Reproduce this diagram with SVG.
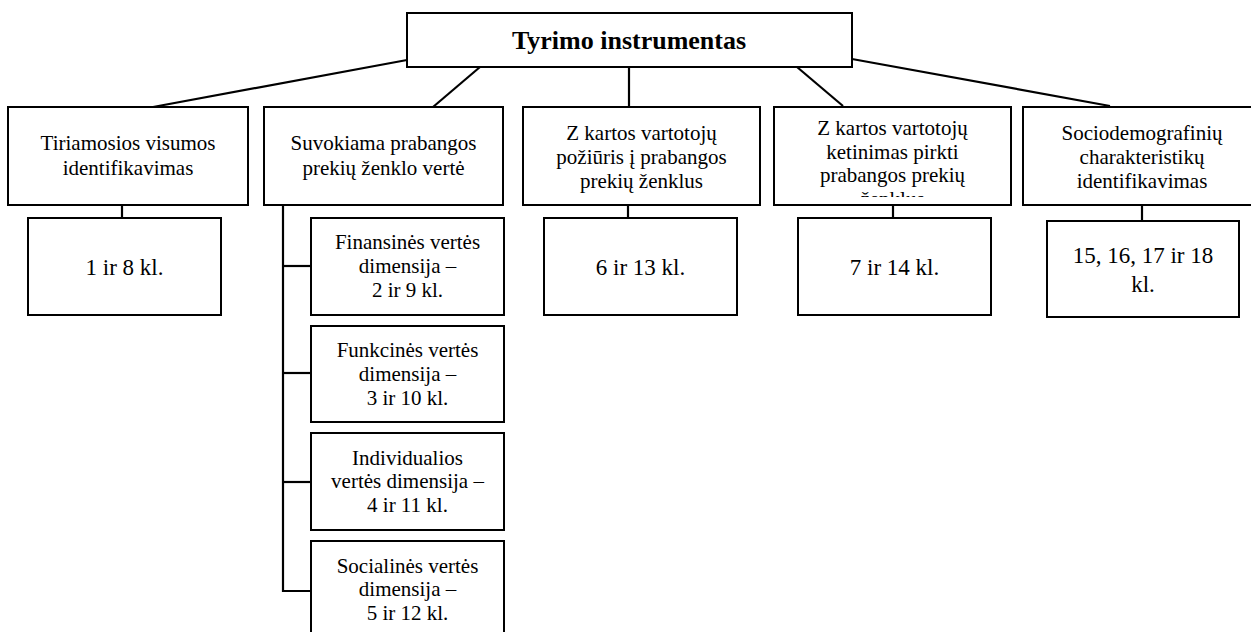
<svg xmlns="http://www.w3.org/2000/svg" width="1251" height="632" viewBox="0 0 1251 632">
  <style>
    .box { fill: #ffffff; stroke: #000000; stroke-width: 2; }
    .link { fill: none; stroke: #000000; stroke-width: 2.2; }
    .lbl text { fill: #000000; text-anchor: middle; }
    .t { font-size: 21px; }
    .n { font-size: 23px; }
    .title { font-size: 26px; font-weight: bold; }
  </style>
  <defs>
    <clipPath id="clip-ketinimas">
      <rect x="775" y="107" width="236" height="90"/>
    </clipPath>
  </defs>
  <rect width="1251" height="632" fill="#ffffff"/>

  <!-- connectors -->
  <g id="connectors">
    <line class="link" x1="407" y1="60" x2="153" y2="107"/>
    <line class="link" x1="480" y1="67" x2="433" y2="107"/>
    <line class="link" x1="629" y1="67" x2="629" y2="106"/>
    <line class="link" x1="797" y1="67" x2="843" y2="106"/>
    <line class="link" x1="852" y1="59" x2="1110" y2="106"/>
    <line class="link" x1="122" y1="205" x2="122" y2="218"/>
    <line class="link" x1="628" y1="205" x2="628" y2="218"/>
    <line class="link" x1="893" y1="205" x2="893" y2="218"/>
    <line class="link" x1="1142" y1="205" x2="1142" y2="221"/>
    <!-- value dimension tree -->
    <polyline class="link" points="283,205 283,591 311,591"/>
    <line class="link" x1="283" y1="266" x2="311" y2="266"/>
    <line class="link" x1="283" y1="373" x2="311" y2="373"/>
    <line class="link" x1="283" y1="482" x2="311" y2="482"/>
  </g>

  <g class="lbl" font-family="'Liberation Serif', 'DejaVu Serif', serif">
  <g id="root">
    <rect class="box" x="407" y="13" width="445" height="54"/>
    <text class="title" x="629" y="49">Tyrimo instrumentas</text>
  </g>

  <g id="visumos">
    <rect class="box" x="8" y="107" width="240" height="98"/>
    <text class="t" x="128" y="150">Tiriamosios visumos</text>
    <text class="t" x="128" y="175">identifikavimas</text>
  </g>

  <g id="verte">
    <rect class="box" x="264" y="107" width="239" height="98"/>
    <text class="t" x="383.5" y="150">Suvokiama prabangos</text>
    <text class="t" x="383.5" y="175">prekių ženklo vertė</text>
  </g>

  <g id="poziuris">
    <rect class="box" x="523" y="107" width="237" height="98"/>
    <text class="t" x="641.5" y="140">Z kartos vartotojų</text>
    <text class="t" x="641.5" y="164">požiūris į prabangos</text>
    <text class="t" x="641.5" y="188">prekių ženklus</text>
  </g>

  <g id="ketinimas">
    <rect class="box" x="774" y="107" width="237" height="98"/>
    <g clip-path="url(#clip-ketinimas)">
      <text class="t" x="892.5" y="135">Z kartos vartotojų</text>
      <text class="t" x="892.5" y="158.5">ketinimas pirkti</text>
      <text class="t" x="892.5" y="182">prabangos prekių</text>
      <text class="t" x="892.5" y="206">ženklus</text>
    </g>
  </g>

  <g id="sociodemografines">
    <rect class="box" x="1023" y="107" width="240" height="98"/>
    <text class="t" x="1142" y="140">Sociodemografinių</text>
    <text class="t" x="1142" y="164">charakteristikų</text>
    <text class="t" x="1142" y="188">identifikavimas</text>
  </g>

  <g id="kl-1-8">
    <rect class="box" x="28" y="218" width="193" height="97"/>
    <text class="n" x="124.5" y="275">1 ir 8 kl.</text>
  </g>

  <g id="kl-6-13">
    <rect class="box" x="544" y="218" width="193" height="97"/>
    <text class="n" x="640.5" y="275">6 ir 13 kl.</text>
  </g>

  <g id="kl-7-14">
    <rect class="box" x="798" y="218" width="193" height="97"/>
    <text class="n" x="894.5" y="275">7 ir 14 kl.</text>
  </g>

  <g id="kl-15-18">
    <rect class="box" x="1047" y="221" width="192" height="96"/>
    <text class="n" x="1143" y="263">15, 16, 17 ir 18</text>
    <text class="n" x="1143" y="292">kl.</text>
  </g>

  <g id="finansine">
    <rect class="box" x="311" y="218" width="193" height="97"/>
    <text class="t" x="407.5" y="249">Finansinės vertės</text>
    <text class="t" x="407.5" y="273">dimensija –</text>
    <text class="t" x="407.5" y="297">2 ir 9 kl.</text>
  </g>

  <g id="funkcine">
    <rect class="box" x="311" y="326" width="193" height="96"/>
    <text class="t" x="407.5" y="357">Funkcinės vertės</text>
    <text class="t" x="407.5" y="381">dimensija –</text>
    <text class="t" x="407.5" y="405">3 ir 10 kl.</text>
  </g>

  <g id="individuali">
    <rect class="box" x="311" y="433" width="193" height="97"/>
    <text class="t" x="407.5" y="465">Individualios</text>
    <text class="t" x="407.5" y="488">vertės dimensija –</text>
    <text class="t" x="407.5" y="512">4 ir 11 kl.</text>
  </g>

  <g id="sociali">
    <rect class="box" x="311" y="541" width="193" height="100"/>
    <text class="t" x="407.5" y="573">Socialinės vertės</text>
    <text class="t" x="407.5" y="596">dimensija –</text>
    <text class="t" x="407.5" y="620">5 ir 12 kl.</text>
  </g>
  </g>
</svg>
